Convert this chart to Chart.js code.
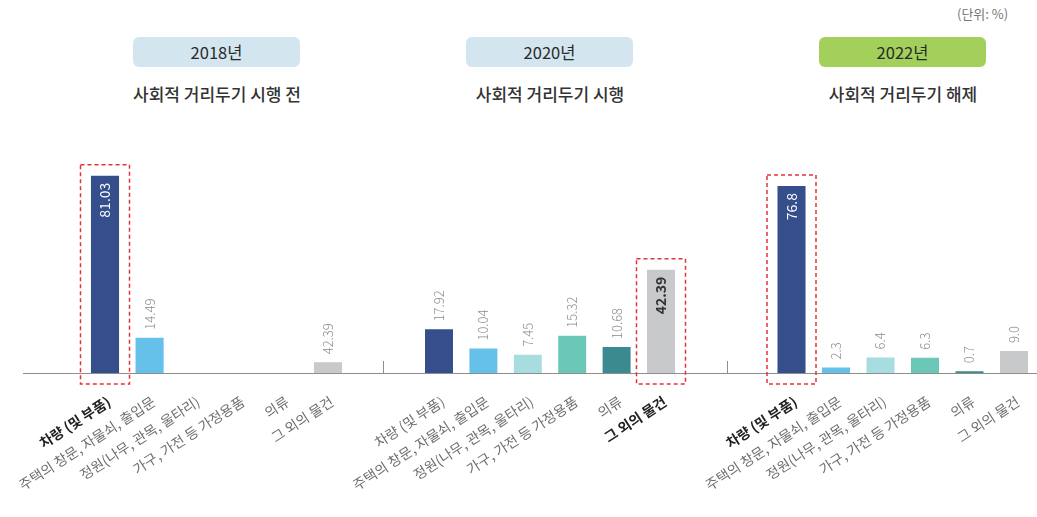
<!DOCTYPE html>
<html>
<head>
<meta charset="utf-8">
<script src="https://cdn.jsdelivr.net/npm/chart.js@4"></script>
<style>
  body { margin: 0; background: #fff; font-family: "Noto Sans CJK KR", sans-serif; }
  #wrap { position: relative; width: 1037px; height: 517px; overflow: hidden; }
  #wrap canvas { position: absolute; left: 0; top: 0; }
  .pill { position: absolute; top: 37px; width: 167px; height: 30px; border-radius: 6px;
          text-align: center; line-height: 30px; font-size: 16.5px; color: #2a2a2a; }
  .sub { position: absolute; top: 81px; width: 300px; text-align: center;
         font-size: 17px; color: #333; font-weight: 500; }
  .unit { position: absolute; top: 4px; left: 957px; font-size: 13px; color: #777; }
  .base { position: absolute; left: 23px; top: 373px; width: 1014px; height: 1px; background: #8e8e8e; }
  .sep { position: absolute; top: 361px; width: 1px; height: 12px; background: #8e8e8e; }
</style>
</head>
<body>
<div id="wrap">
  <div class="unit">(단위: %)</div>
  <div class="pill" style="left:133px;background:#d3e5ee">2018년</div>
  <div class="pill" style="left:466px;background:#d3e5ee">2020년</div>
  <div class="pill" style="left:819px;background:#a3cf5b">2022년</div>
  <div class="sub" style="left:67px">사회적 거리두기 시행 전</div>
  <div class="sub" style="left:400px">사회적 거리두기 시행</div>
  <div class="sub" style="left:753px">사회적 거리두기 해제</div>
  <div class="base"></div>
  <div class="sep" style="left:383px"></div>
  <div class="sep" style="left:727px"></div>
  <canvas id="chart2018" width="1037" height="517"></canvas>
  <canvas id="chart2020" width="1037" height="517"></canvas>
  <canvas id="chart2022" width="1037" height="517"></canvas>
</div>
<script>
const categories = ['차량 (및 부품)', '주택의 창문, 자물쇠, 출입문', '정원(나무, 관목, 울타리)',
  '가구, 가전 등 가정용품', '의류', '그 외의 물건']

// 2018: last bar is drawn short in the source even though it is printed 42.39
const values2018 = [81.03, 14.49, null, null, null, 4.39]
const values2020 = [17.92, 10.04, 7.45, 15.32, 10.68, 42.39]
const values2022 = [76.8, 2.3, 6.4, 6.3, 0.7, 9.0]

const labels2018 = ['81.03', '14.49', '', '', '', '42.39']
const labels2020 = ['17.92', '10.04', '7.45', '15.32', '10.68', '42.39']
const labels2022 = ['76.8', '2.3', '6.4', '6.3', '0.7', '9.0']

const barColors = ['#344f8c', '#65c1e9', '#a7dde1', '#6bc7b6', '#3b8a8f', '#c8c9cb']
const fontFamily = '"Noto Sans CJK KR", sans-serif'

////////// value labels + red box //////////
const barText = {
  id: 'barText',
  afterDatasetsDraw(chart, args, opts) {
    const ctx = chart.ctx
    const meta = chart.getDatasetMeta(0)
    meta.data.forEach((bar, i) => {
      const text = opts.labels[i]
      if (!text) return
      const inside = i === opts.highlight
      ctx.save()
      ctx.translate(bar.x, inside ? bar.y + 7 : bar.y - 8)
      ctx.rotate(-Math.PI / 2)
      ctx.textBaseline = 'middle'
      ctx.textAlign = inside ? 'right' : 'left'
      ctx.fillStyle = inside ? opts.insideColor : '#8a8a8a'
      ctx.font = (inside ? opts.insideWeight + ' 14px ' : '300 13px ') + fontFamily
      ctx.fillText(text, 0, 0)
      ctx.restore()
    })

    const hb = meta.data[opts.highlight]
    ctx.save()
    ctx.strokeStyle = '#e3333b'
    ctx.lineWidth = 1.5
    ctx.setLineDash([4, 3])
    const top = hb.y - 11
    ctx.strokeRect(hb.x - 24.5, top, 49, chart.chartArea.bottom + 11 - top)
    ctx.restore()
  }
}

makeChart = (id, values, labels, highlight, left, right, insideColor, insideWeight) => {
  return new Chart(document.getElementById(id).getContext('2d'), {
    type: 'bar',
    data: {
      labels: categories,
      datasets: [{
        data: values,
        backgroundColor: barColors,
        barPercentage: 0.63,
        categoryPercentage: 1
      }]
    },
    options: {
      responsive: false,
      animation: false,
      events: [],
      layout: { padding: { left: left, right: right, top: 129.5, bottom: 0 } },
      plugins: {
        legend: { display: false },
        tooltip: { enabled: false },
        barText: { labels: labels, highlight: highlight, insideColor: insideColor, insideWeight: insideWeight }
      },
      scales: {
        x: {
          grid: { display: false, drawTicks: false },
          border: { display: false },
          ticks: {
            autoSkip: false,
            minRotation: 33,
            maxRotation: 33,
            padding: 20,
            labelOffset: 4,
            color: c => c.index === highlight ? '#222' : '#6f6f6f',
            font: c => ({ family: fontFamily, size: 14, weight: c.index === highlight ? 'bold' : 'normal' })
          },
          afterFit: s => {
            // fixed axis band so the plot bottom sits on the shared baseline
            s.height = 144
            s.paddingLeft = 0
            s.paddingRight = 0
          }
        },
        y: { display: false, min: 0, max: 100 }
      }
    },
    plugins: [barText]
  })
}

var chart2018 = makeChart('chart2018', values2018, labels2018, 0, 82.7, 1037 - 350.3, '#fff', 'normal')
var chart2020 = makeChart('chart2020', values2020, labels2020, 5, 416.8, 1037 - 683.2, '#333', 'bold')
var chart2022 = makeChart('chart2022', values2022, labels2022, 0, 769.25, 0.75, '#fff', 'normal')
</script>
</body>
</html>
